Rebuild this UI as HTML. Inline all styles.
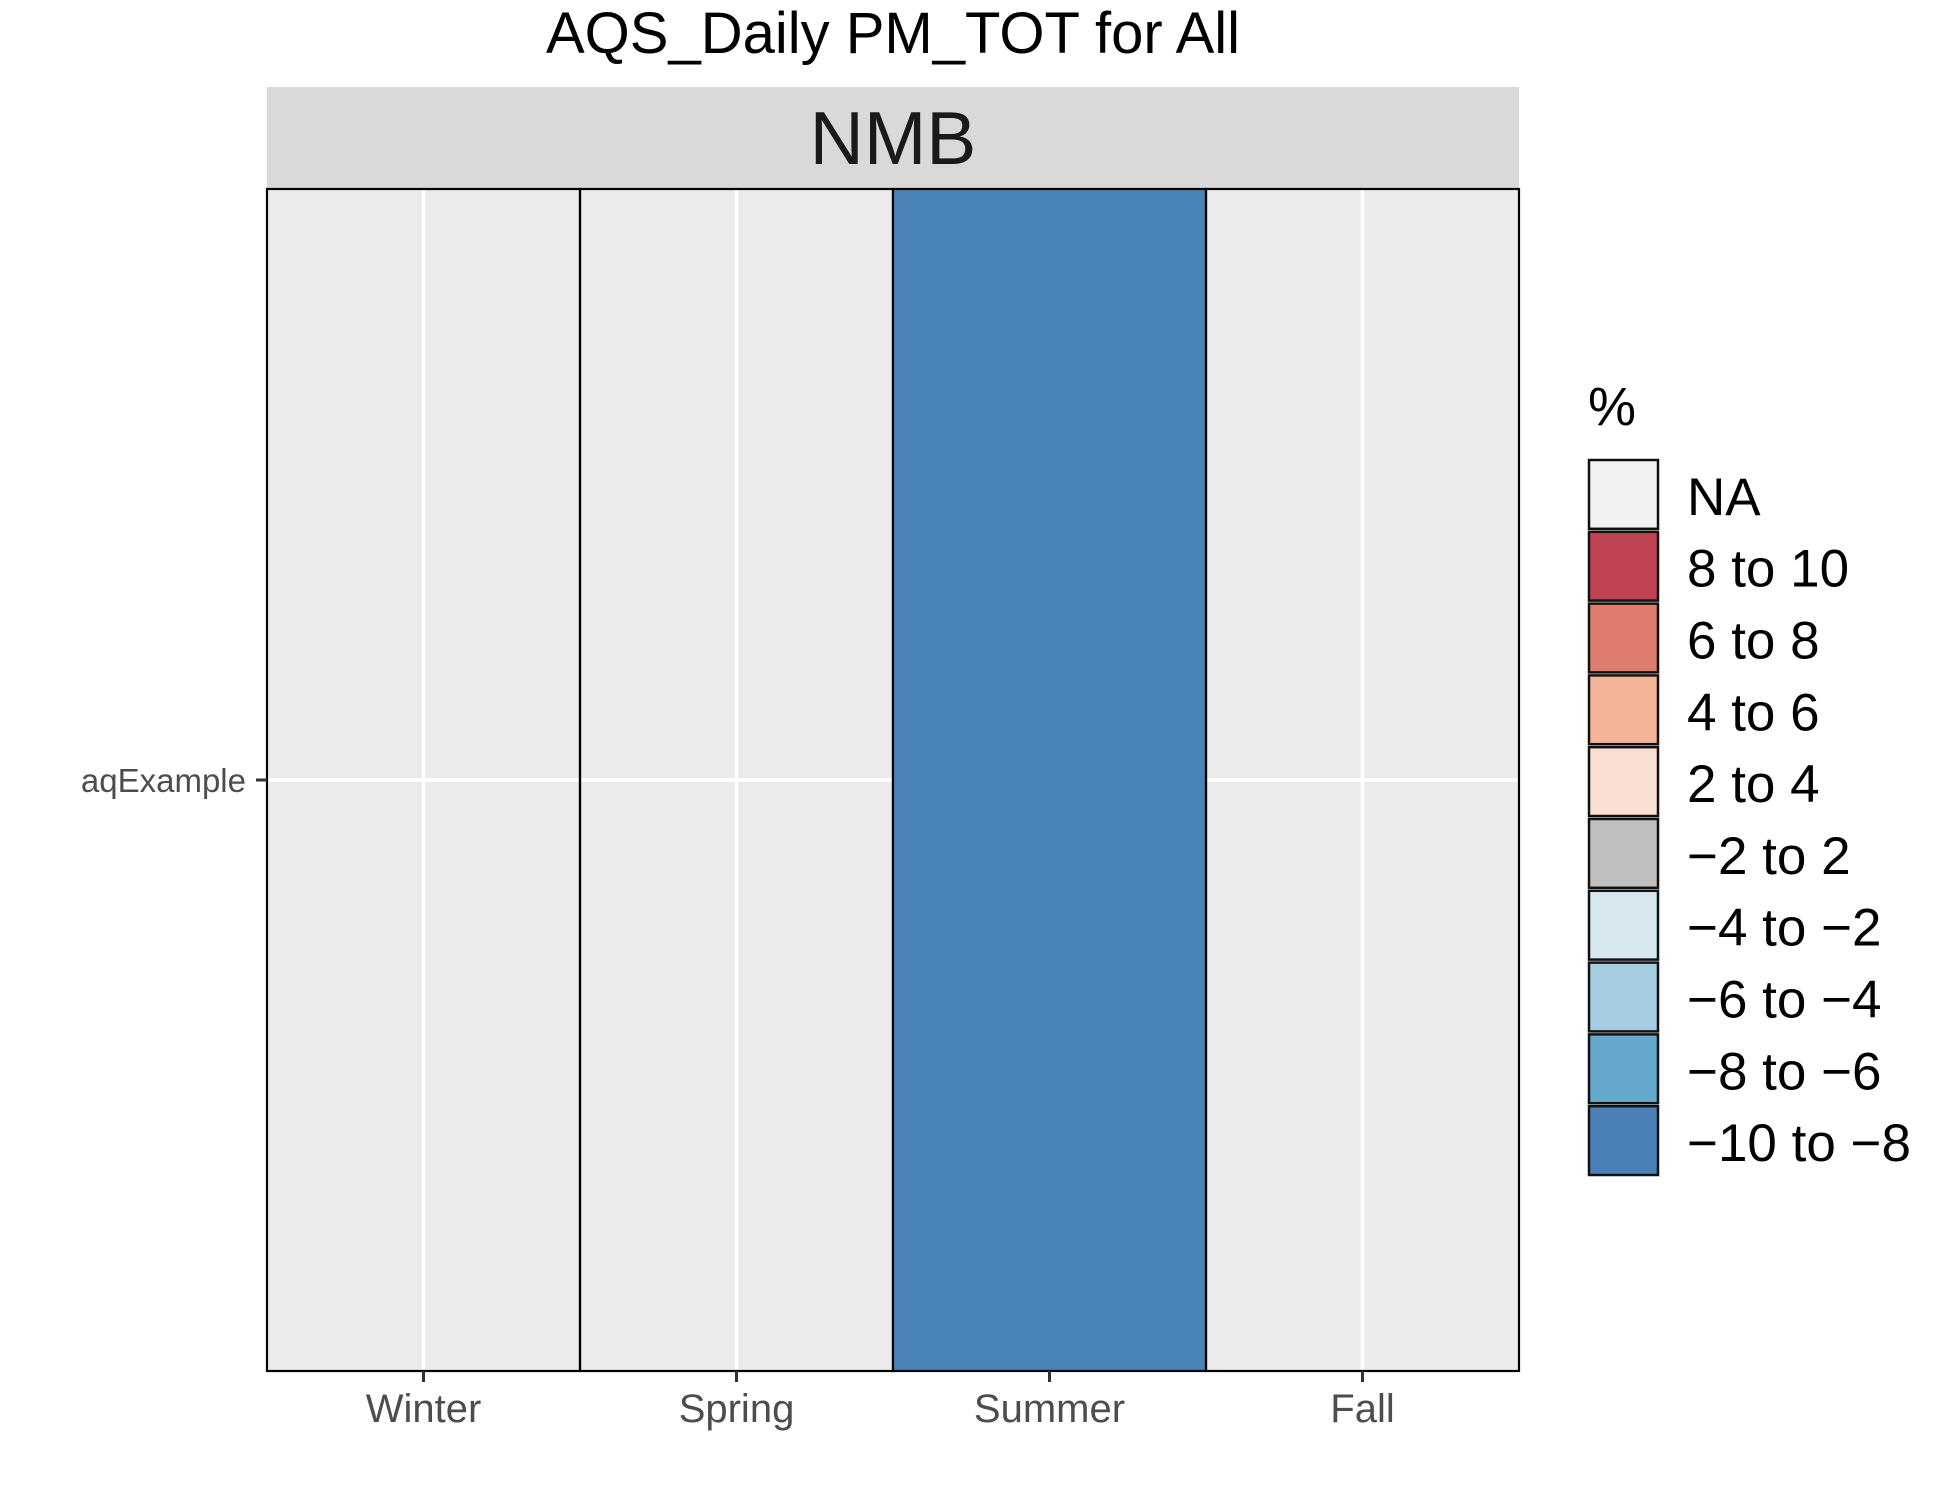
<!DOCTYPE html>
<html><head><meta charset="utf-8"><style>
html,body{margin:0;padding:0;background:#fff;}
svg{display:block;font-family:"Liberation Sans",sans-serif;}
</style></head><body>
<svg id="chart" width="1950" height="1500" viewBox="0 0 1950 1500">
<text x="893" y="53" font-size="58" text-anchor="middle" fill="#000">AQS_Daily PM_TOT for All</text>
<rect x="267" y="87" width="1252" height="102" fill="#d9d9d9"/>
<text x="893" y="164" font-size="75" text-anchor="middle" fill="#1a1a1a">NMB</text>
<rect x="267" y="189" width="1252" height="1182" fill="#ebebeb"/>
<g id="grid"></g>
<g id="tiles"></g>
<g id="axes"></g>
<g id="legend"></g>
</svg>
<script>
const categories = ["Winter","Spring","Summer","Fall"];
const rows = ["aqExample"];
const values = [null, null, -9, null];
const legendLabels = ["NA","8 to 10","6 to 8","4 to 6","2 to 4","\u22122 to 2","\u22124 to \u22122","\u22126 to \u22124","\u22128 to \u22126","\u221210 to \u22128"];
const legendColors = ["#f2f2f2","#bf4352","#de7d6e","#f3b497","#fae0d3","#bfbfbf","#d6e7f0","#a6cde2","#66a7cc","#4b81b8"];
const binLower = [8,6,4,2,-2,-4,-6,-8,-10];
const binUpper = [10,8,6,4,2,-2,-4,-6,-8];

const NS="http://www.w3.org/2000/svg";
const px0=267, px1=1519, py0=189, py1=1371;
const bw=(px1-px0)/categories.length;
function xScale(i){return px0+i*bw;}
function yCenter(j){return py0+(py1-py0)*(j+0.5)/rows.length;}
function colorFor(v){
  if(v===null) return null;
  for(let k=0;k<binLower.length;k++){ if(v>=binLower[k]&&v<=binUpper[k]) return legendColors[k+1]; }
  return null;
}
function mk(tag,attrs,parent){const e=document.createElementNS(NS,tag);for(const k in attrs)e.setAttribute(k,attrs[k]);parent.appendChild(e);return e;}
const grid=document.getElementById('grid'), tiles=document.getElementById('tiles'), axes=document.getElementById('axes'), legend=document.getElementById('legend');

categories.forEach((c,i)=>{
  const g=mk('line',{x1:xScale(i)+bw/2,x2:xScale(i)+bw/2,y1:py0,y2:py1,stroke:'#fff','stroke-width':3.5},grid);
  
  
});
rows.forEach((r,j)=>{
  const g=mk('line',{x1:px0,x2:px1,y1:yCenter(j),y2:yCenter(j),stroke:'#fff','stroke-width':3.5},grid);
  
  
});
values.forEach((v,i)=>{
  const col=colorFor(v);
  if(col){
    const t=mk('rect',{x:xScale(i),y:py0,width:bw,height:py1-py0,fill:'#4a83b8'},tiles);
    
    
  }
  const b=mk('rect',{x:xScale(i),y:py0,width:bw,height:py1-py0,fill:'none',stroke:'#000','stroke-width':2.2},tiles);
  
  
});
categories.forEach((c,i)=>{
  const cx=xScale(i)+bw/2;
  const tk=mk('line',{x1:cx,x2:cx,y1:py1,y2:py1+11,stroke:'#333','stroke-width':3},axes);
  
  
  const tx=mk('text',{x:cx,y:1422,'font-size':40,'text-anchor':'middle',fill:'#4d4d4d'},axes);
  tx.textContent=c;
  
  
});
rows.forEach((r,j)=>{
  const cy=yCenter(j);
  const tk=mk('line',{x1:px0-11,x2:px0,y1:cy,y2:cy,stroke:'#333','stroke-width':3},axes);
  
  
  const tx=mk('text',{x:px0-21,y:cy+12,'font-size':33,'text-anchor':'end',fill:'#4d4d4d'},axes);
  tx.textContent=r;
  
  
});
const lt=mk('text',{x:1588,y:425,'font-size':54,fill:'#000'},legend);
lt.textContent='%';


const ky0=459, kh=71.8;
legendLabels.forEach((l,k)=>{
  const y=ky0+k*kh;
  const r=mk('rect',{x:1589,y:y+1,width:69,height:kh-3,fill:legendColors[k],stroke:'#111','stroke-width':2.5},legend);
  
  
  const t=mk('text',{x:1687,y:y+kh/2+20,'font-size':53,fill:'#000'},legend);
  t.textContent=l;
  
  
});
</script>
</body></html>
